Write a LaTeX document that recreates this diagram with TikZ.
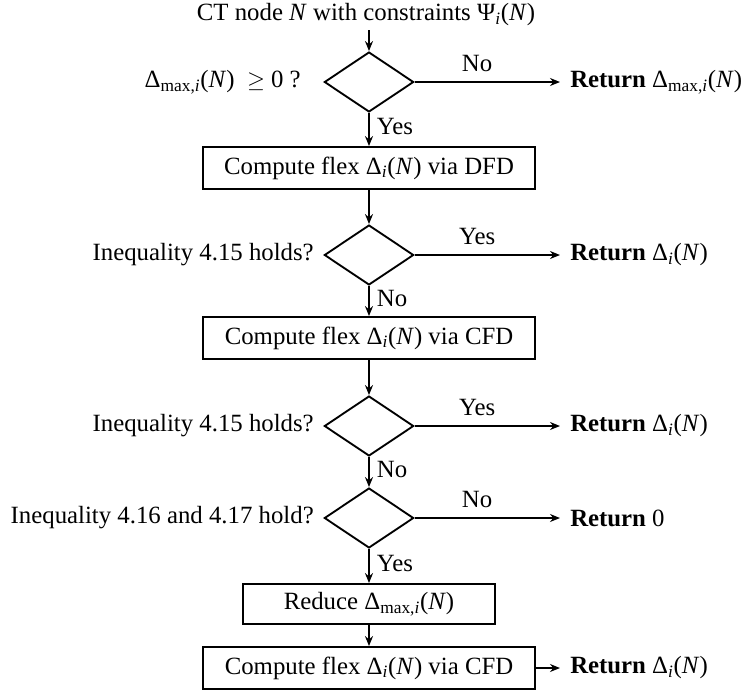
\documentclass[tikz,border=0pt]{standalone}
\usepackage{fontspec}
\setmainfont{Liberation Serif}
\usetikzlibrary{shapes.geometric,arrows.meta}
\newcommand{\myN}{(\textit{N})}
\newcommand{\Dmax}{Δ\textsubscript{max,\textit{i}}\myN}
\newcommand{\Di}{Δ\textsubscript{\textit{i}}\myN}
\begin{document}
\begin{tikzpicture}[x=0.75pt,y=-0.75pt,
  font=\fontsize{18.6}{22}\selectfont,
  dec/.style={draw,diamond,minimum width=67pt,minimum height=45pt,inner sep=0pt,line width=1.4pt},
  proc/.style={draw,rectangle,minimum height=31.5pt,inner sep=0pt,line width=1.4pt},
  arr/.style={-{Stealth[length=7.5pt,width=6pt]},line width=1.1pt},
  lab/.style={inner sep=0pt}]
\useasboundingbox (0,0) rectangle (754,694);
\node[lab] (title) at (366,15) {CT node \textit{N} with constraints Ψ\textsubscript{\textit{i}}\myN};
\coordinate (t0) at (369,30);
% decision 1
\node[dec] (d1) at (369,82) {};
\node[lab,anchor=east] (q1) at (301,82) {\Dmax\ \ $\geq$ 0 ?};
\coordinate (e1) at (560,82);
\node[lab,anchor=west] (r1) at (570,82) {\textbf{Return} \Dmax};
% box 1
\node[proc,minimum width=249pt] (b1) at (369,168) {Compute flex \Di{} via DFD};
% decision 2
\node[dec] (d2) at (369,255) {};
\node[lab,anchor=east] (q2) at (314,255) {Inequality 4.15 holds?};
\coordinate (e2) at (560,255);
\node[lab,anchor=west] (r2) at (570,255) {\textbf{Return} \Di};
% box 2
\node[proc,minimum width=249pt] (b2) at (369,338) {Compute flex \Di{} via CFD};
% decision 3
\node[dec] (d3) at (369,426) {};
\node[lab,anchor=east] (q3) at (314,426) {Inequality 4.15 holds?};
\coordinate (e3) at (560,426);
\node[lab,anchor=west] (r3) at (570,426) {\textbf{Return} \Di};
% decision 4
\node[dec] (d4) at (369,518) {};
\node[lab,anchor=east] (q4) at (314,518) {Inequality 4.16 and 4.17 hold?};
\coordinate (e4) at (560,518);
\node[lab,anchor=west] (r4) at (570,518) {\textbf{Return} 0};
% boxes 3, 4
\node[proc,minimum width=189pt,minimum height=30pt] (b3) at (369,604) {Reduce \Dmax};
\node[proc,minimum width=249pt] (b4) at (369,668) {Compute flex \Di{} via CFD};
\coordinate (e5) at (560,668);
\node[lab,anchor=west] (r5) at (570,668) {\textbf{Return} \Di};
% connectors
\draw[arr] (t0) -- (d1.north);
\draw[arr] (d1.east) -- node[above=4pt,pos=0.43]{No} (e1);
\draw[arr] (d1.south) -- node[right=2pt,pos=0.42]{Yes} (b1.north);
\draw[arr] (b1.south) -- (d2.north);
\draw[arr] (d2.east) -- node[above=4pt,pos=0.43]{Yes} (e2);
\draw[arr] (d2.south) -- node[right=2pt,pos=0.42]{No} (b2.north);
\draw[arr] (b2.south) -- (d3.north);
\draw[arr] (d3.east) -- node[above=4pt,pos=0.43]{Yes} (e3);
\draw[arr] (d3.south) -- node[right=2pt,pos=0.42]{No} (d4.north);
\draw[arr] (d4.east) -- node[above=4pt,pos=0.43]{No} (e4);
\draw[arr] (d4.south) -- node[right=2pt,pos=0.42]{Yes} (b3.north);
\draw[arr] (b3.south) -- (b4.north);
\draw[arr] (b4.east) -- (e5);
\end{tikzpicture}
\end{document}
